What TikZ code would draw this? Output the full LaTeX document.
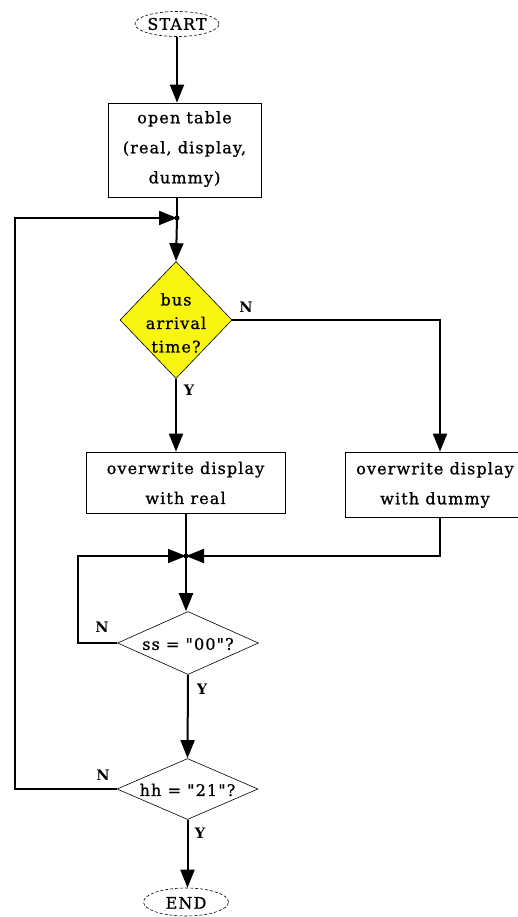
\documentclass[tikz,border=0pt]{standalone}
\usepackage{fontspec}
\setmainfont{DejaVu Serif}[LetterSpace=7,FakeBold=0.9,Ligatures=TeXOff]
\newfontfamily\lblfont{DejaVu Serif}[LetterSpace=0]
\usetikzlibrary{arrows.meta,shapes.geometric,calc}
\definecolor{diayellow}{RGB}{248,245,16}
\tikzset{
  flow/.style={line width=2pt, draw=black},
  arr/.style={flow, -{Triangle[length=18pt,width=14pt]}},
  boxnode/.style={draw=black, line width=0.8pt, rectangle, inner sep=0pt},
  termnode/.style={draw=black, line width=0.6pt, densely dashed, ellipse, inner sep=0pt},
  decnode/.style={draw=black, line width=0.6pt, diamond, inner sep=0pt},
  txt/.style={font=\fontsize{16}{30}\selectfont, align=center, inner sep=0pt},
  dtxt/.style={font=\fontsize{16}{23.5}\selectfont, align=center, inner sep=0pt},
  yn/.style={font=\lblfont\bfseries\fontsize{14.5}{14.5}\selectfont, inner sep=0pt},
  dot/.style={circle, fill=black, inner sep=0pt, minimum size=5pt}
}
\begin{document}
\begin{tikzpicture}[x=1pt,y=-1pt]
\useasboundingbox[fill=white] (0,0) rectangle (517,917);

% nodes
\node[termnode, minimum width=84pt, minimum height=25pt] (start) at (177,24) {};
\node[txt] (startT) at (177,24) {START};

\node[boxnode, minimum width=153pt, minimum height=94pt] (open) at (184.5,150) {};
\node[txt] (openT) at (184.5,149) {open table\\(real, display,\\dummy)};

\node[dot] (j1) at (177,218) {};

\node[decnode, fill=diayellow, minimum width=112pt, minimum height=117pt] (bus) at (176,320) {};
\node[dtxt] (busT) at (176,323) {bus\\arrival\\time?};

\node[boxnode, minimum width=199pt, minimum height=61pt] (real) at (185.5,482.5) {};
\node[txt] (realT) at (185.5,483) {overwrite display\\with real};

\node[boxnode, minimum width=175pt, minimum height=65pt] (dummy) at (432.5,484.5) {};
\node[txt] (dummyT) at (435,485) {overwrite display\\with dummy};

\node[dot] (j2) at (186,556) {};

\node[decnode, minimum width=141pt, minimum height=63pt] (ss) at (188,643) {};
\node[txt] (ssT) at (188,644) {ss = "00"?};

\node[decnode, minimum width=141pt, minimum height=61pt] (hh) at (187.5,789) {};
\node[txt] (hhT) at (187.5,790) {hh = "21"?};

\node[termnode, minimum width=85pt, minimum height=28pt] (end) at (186,902) {};
\node[txt] (endT) at (186,903) {END};

% turn coordinates
\coordinate (nturn) at (440,320);
\coordinate (dturn) at (440,556);
\coordinate (ssturn) at (78,643);
\coordinate (ssup) at (78,556);
\coordinate (hhturn) at (15,789);
\coordinate (hhup) at (15,218);

% connectors
\draw[arr] (start.south) -- (start.south |- open.north);
\draw[flow] (open.south -| j1) -- (j1.center);
\draw[arr] (j1.center) -- (bus.north);
\draw[arr] (bus.east) -- (nturn) -- (nturn |- dummy.north);
\draw[arr] (bus.south) -- (bus.south |- real.north);
\draw[flow] (real.south -| j2) -- (j2.center);
\draw[arr] (dummy.south -| dturn) -- (dturn) -- (j2.center);
\draw[arr] (ss.west) -- (ssturn) -- (ssup) -- (j2.center);
\draw[arr] (j2.center) -- (j2.center |- ss.north);
\draw[arr] (ss.south) -- (hh.north);
\draw[arr] (hh.west) -- (hhturn) -- (hhup) -- (j1.center);
\draw[arr] (hh.south) -- (hh.south |- end.north);

% labels
\node[yn] (lN1) at (246,307) {N};
\node[yn] (lY1) at (189,390) {Y};
\node[yn] (lN2) at (102,627) {N};
\node[yn] (lY2) at (202,689) {Y};
\node[yn] (lN3) at (103,775) {N};
\node[yn] (lY3) at (200,833) {Y};
\end{tikzpicture}
\end{document}
